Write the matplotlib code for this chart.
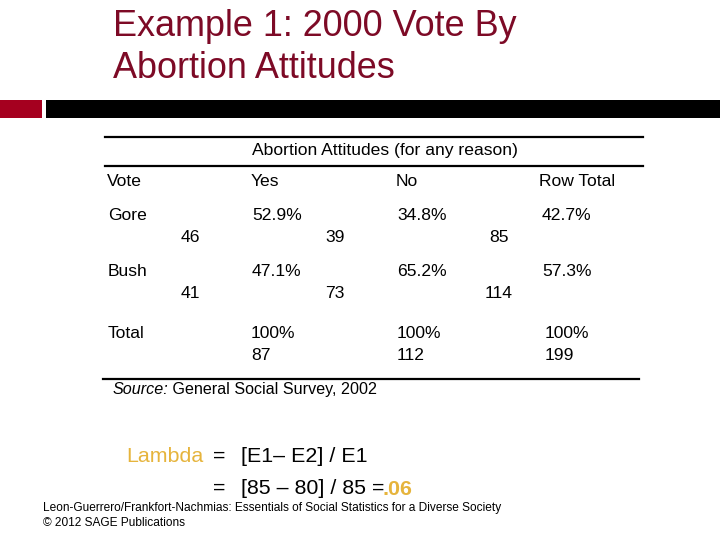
import matplotlib.pyplot as plt

plt.rcParams['font.family'] = ['Liberation Sans', 'DejaVu Sans']

title_lines = ['Example 1: 2000 Vote By', 'Abortion Attitudes']
header = 'Abortion Attitudes (for any reason)'
col_names = ['Vote', 'Yes', 'No', 'Row Total']
rows = ['Gore', 'Bush']
pct_yes = ['52.9%', '47.1%']
pct_no = ['34.8%', '65.2%']
pct_row = ['42.7%', '57.3%']
n_yes = [46, 41]
n_no = [39, 73]
n_row = [85, 114]
col_totals_pct = ['100%', '100%', '100%']
col_totals_n = [87, 112, 199]
lambda_val = '.06'

fig = plt.figure(figsize=(7.2, 5.4), dpi=100)
ax = fig.add_axes([0, 0, 1, 1])
ax.set_xlim(0, 720)
ax.set_ylim(540, 0)
ax.axis('off')

maroon = '#7d0a26'
gold = '#e6b43c'

# title
for i, line in enumerate(title_lines):
    ax.text(113, 26 + i * 43, line, fontsize=25.9, color=maroon, va='center', ha='left')

# header bars
ax.add_patch(plt.Rectangle((0, 100), 42, 18, color='#a5001f', lw=0))
ax.add_patch(plt.Rectangle((46, 100), 674, 18, color='black', lw=0))

# table rules
ax.plot([105, 643], [137, 137], color='black', lw=1.6)
ax.plot([105, 643], [166, 166], color='black', lw=1.6)
ax.plot([103, 639], [379, 379], color='black', lw=1.6)

fs = 12.6
ax.text(385, 151, header, fontsize=fs, ha='center', va='center')
col_x = [107, 251, 396, 539]
for x, name in zip(col_x, col_names):
    ax.text(x, 181, name, fontsize=fs, ha='left', va='center')

pct_x = [252, 397, 542]
n_x = [190, 335, 499]
row_y = [215, 272]
for j, r in enumerate(rows):
    y = row_y[j]
    ax.text(108, y, r, fontsize=fs, ha='left', va='center')
    for x, v in zip(pct_x, [pct_yes[j], pct_no[j], pct_row[j]]):
        ax.text(x, y, v, fontsize=fs, ha='left', va='center')
    for x, v in zip(n_x, [n_yes[j], n_no[j], n_row[j]]):
        ax.text(x, y + 22, str(v), fontsize=fs, ha='center', va='center')

tot_x = [251, 397, 545]
ax.text(108, 334, 'Total', fontsize=fs, ha='left', va='center')
for x, p, n in zip(tot_x, col_totals_pct, col_totals_n):
    ax.text(x, 334, p, fontsize=fs, ha='left', va='center')
    ax.text(x, 355, str(n), fontsize=fs, ha='left', va='center')

# source
ax.text(113, 394, 'Source:', fontsize=11.6, style='italic', ha='left', va='baseline')
ax.text(168, 394, ' General Social Survey, 2002', fontsize=11.6, ha='left', va='baseline')

# lambda formula
lf = 15.4
ax.text(126, 462, 'Lambda', fontsize=lf, color=gold, ha='left', va='baseline')
ax.text(213, 462, '=', fontsize=lf, ha='left', va='baseline')
ax.text(241, 462, '[E1\u2013 E2] / E1', fontsize=lf, ha='left', va='baseline')
ax.text(213, 494, '=', fontsize=lf, ha='left', va='baseline')
ax.text(241, 494, '[85 \u2013 80] / 85 =', fontsize=lf, ha='left', va='baseline')
ax.text(383, 495, lambda_val, fontsize=lf, color=gold, fontweight='bold',
        ha='left', va='baseline')

# footer
ax.text(43, 508, 'Leon-Guerrero/Frankfort-Nachmias: Essentials of Social Statistics for a Diverse Society',
        fontsize=8.6, ha='left', va='center')
ax.text(43, 523, '\u00a9 2012 SAGE Publications', fontsize=8.6, ha='left', va='center')

fig.savefig('out.png', dpi=100)
